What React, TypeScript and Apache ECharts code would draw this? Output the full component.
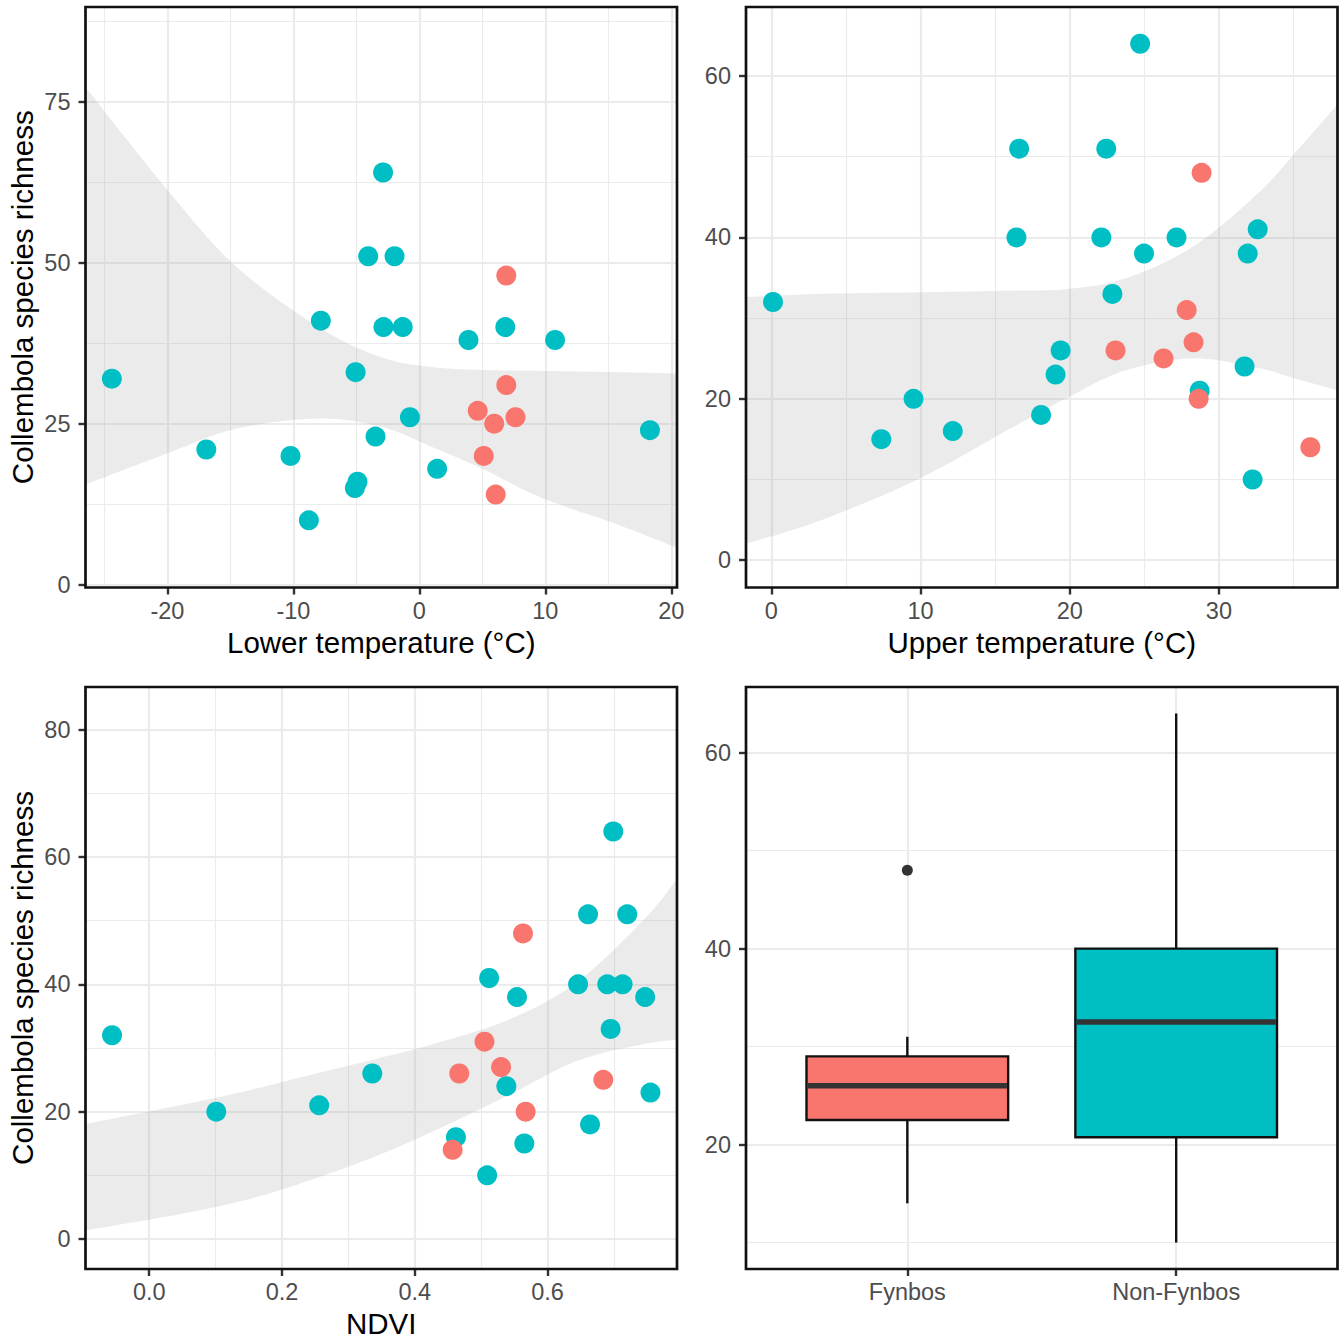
import { useEffect, useRef } from 'react';
import * as echarts from 'echarts';

const FYNBOS_COLOR = '#F8766D';
const NONFYNBOS_COLOR = '#00BFC4';
const FONT = '"Liberation Sans", Arial, Helvetica, sans-serif';

// ---------- Panel A: lower temperature ----------
const lowerTempNonFynbos = [-24.41, -16.91, -10.23, -8.77, -7.82, -5.12, -4.91, -5.06, -4.06, -3.48, -2.88, -2.85, -1.97, -1.32, -0.75, 1.41, 3.9, 6.82, 10.77, 18.3];
const richnessLowerNonFynbos = [32, 21, 20, 10, 41, 15, 16, 33, 51, 23, 64, 40, 51, 40, 26, 18, 38, 40, 38, 24];
const lowerTempFynbos = [6.9, 4.63, 5.94, 6.9, 7.63, 5.11, 6.06];
const richnessLowerFynbos = [48, 27, 25, 31, 26, 20, 14];
const lowerBandX = [-26.6, -20, -14.6, -8, -3, 1, 5, 9.7, 15.8, 20.6];
const lowerBandLow = [15.5, 20.4, 24.2, 25.8, 24.5, 21.4, 18.0, 13.5, 9.3, 5.6];
const lowerBandHigh = [77.5, 61.3, 49.5, 40.0, 35.3, 33.8, 33.35, 33.2, 33.0, 32.8];
const lowerTempTicks = [-20, -10, 0, 10, 20];
const lowerTempMinor = [-25, -15, -5, 5, 15];
const richnessTicksA = [0, 25, 50, 75];
const richnessMinorA = [12.5, 37.5, 62.5, 87.5];

// ---------- Panel B: upper temperature ----------
const upperTempNonFynbos = [0.11, 7.37, 9.53, 12.16, 16.61, 16.43, 18.08, 19.05, 19.39, 22.12, 22.45, 22.86, 24.72, 24.98, 27.16, 28.71, 31.72, 31.93, 32.6, 32.26];
const richnessUpperNonFynbos = [32, 15, 20, 16, 51, 40, 18, 23, 26, 40, 51, 33, 64, 38, 40, 21, 24, 38, 41, 10];
const upperTempFynbos = [28.84, 23.07, 26.29, 27.84, 28.3, 28.64, 36.13];
const richnessUpperFynbos = [48, 26, 25, 31, 27, 20, 14];
const upperBandX = [-1.8, 3.1, 9.8, 15.9, 19.8, 23.7, 28.3, 32.7, 35.3, 38.1];
const upperBandLow = [2.0, 4.8, 10.0, 16.2, 20.1, 23.5, 25.0, 23.8, 22.4, 21.0];
const upperBandHigh = [32.6, 33.0, 33.2, 33.4, 33.6, 34.9, 38.9, 45.6, 50.9, 56.8];
const upperTempTicks = [0, 10, 20, 30];
const upperTempMinor = [5, 15, 25, 35];
const richnessTicksB = [0, 20, 40, 60];
const richnessMinorB = [10, 30, 50];

// ---------- Panel C: NDVI ----------
const ndviNonFynbos = [-0.056, 0.101, 0.256, 0.336, 0.462, 0.509, 0.512, 0.538, 0.554, 0.565, 0.646, 0.661, 0.664, 0.69, 0.695, 0.699, 0.713, 0.72, 0.747, 0.755];
const richnessNdviNonFynbos = [32, 20, 21, 26, 16, 10, 41, 24, 38, 15, 40, 51, 18, 40, 33, 64, 40, 51, 38, 23];
const ndviFynbos = [0.457, 0.467, 0.505, 0.53, 0.563, 0.567, 0.684];
const richnessNdviFynbos = [14, 26, 31, 27, 48, 20, 25];
const ndviBandX = [-0.1, 0.046, 0.144, 0.236, 0.346, 0.444, 0.547, 0.645, 0.749, 0.8];
const ndviBandLow = [1.3, 3.9, 6.1, 9.0, 13.2, 17.7, 22.9, 28.0, 30.7, 31.3];
const ndviBandHigh = [18.0, 21.0, 23.2, 25.6, 28.4, 31.1, 34.7, 40.4, 50.6, 57.3];
const ndviTicks = [0, 0.2, 0.4, 0.6];
const ndviMinor = [0.1, 0.3, 0.5, 0.7];
const richnessTicksC = [0, 20, 40, 60, 80];
const richnessMinorC = [10, 30, 50, 70];

// ---------- Panel D: boxplot ----------
const vegetationTypes = ['Fynbos', 'Non-Fynbos'];
const boxColors = [FYNBOS_COLOR, NONFYNBOS_COLOR];
// [min, Q1, median, Q3, max]
const boxStats = [
  [14, 22.5, 26, 29, 31],
  [10, 20.75, 32.5, 40, 64],
];
const boxOutliers = [[0, 48]];
const richnessTicksD = [20, 40, 60];
const richnessMinorD = [10, 30, 50];

// ---------- layout ----------
const COL_LEFT = [85.5, 746];
const PANEL_W = 591.5;
const ROW_TOP = [7, 687];
const ROW_H = [580.5, 582];
const TICK_FONT = 23.5;
const TITLE_FONT = 29.5;

const panels = [
  { col: 0, row: 0, x: [-26.5, 20.45], y: [-0.43, 89.7], xt: lowerTempTicks, xm: lowerTempMinor, yt: richnessTicksA, ym: richnessMinorA },
  { col: 1, row: 0, x: [-1.7, 37.95], y: [-3.38, 68.55], xt: upperTempTicks, xm: upperTempMinor, yt: richnessTicksB, ym: richnessMinorB },
  { col: 0, row: 1, x: [-0.096, 0.795], y: [-4.71, 86.7], xt: ndviTicks, xm: ndviMinor, yt: richnessTicksC, ym: richnessMinorC },
  { col: 1, row: 1, x: [0.4, 2.6], y: [7.3, 66.7], xt: [1, 2], xm: [] as number[], yt: richnessTicksD, ym: richnessMinorD },
];

function majorAxis(grid: number, range: number[], ticks: number[], isX: boolean, fmt?: (v: number) => string) {
  return {
    type: 'value',
    gridIndex: grid,
    min: range[0],
    max: range[1],
    position: isX ? 'bottom' : 'left',
    axisLine: { show: false, onZero: false },
    axisTick: { show: true, customValues: ticks, length: 7, lineStyle: { color: '#333333', width: 2.4 } },
    axisLabel: {
      show: true,
      customValues: ticks,
      margin: isX ? 11 : 15,
      color: '#4D4D4D',
      fontSize: TICK_FONT,
      fontFamily: FONT,
      formatter: fmt,
    },
    splitLine: { show: true, lineStyle: { color: '#EBEBEB', width: 2.2 } },
    minorTick: { show: false },
    minorSplitLine: { show: false },
  };
}

function minorAxis(grid: number, range: number[], ticks: number[], isX: boolean) {
  return {
    type: 'value',
    gridIndex: grid,
    min: range[0],
    max: range[1],
    position: isX ? 'bottom' : 'left',
    axisLine: { show: false, onZero: false },
    axisTick: { show: false, customValues: ticks },
    axisLabel: { show: false, customValues: ticks },
    splitLine: { show: ticks.length > 0, lineStyle: { color: '#EBEBEB', width: 1.1 } },
  };
}

function pairs(xs: number[], ys: number[]) {
  return xs.map((x, i) => [x, ys[i]]);
}

function scatter(p: number, xs: number[], ys: number[], color: string) {
  return {
    type: 'scatter',
    xAxisIndex: p * 2,
    yAxisIndex: p * 2,
    data: pairs(xs, ys),
    symbolSize: 20,
    itemStyle: { color, opacity: 1 },
    z: 3,
    silent: true,
  };
}

// Catmull-Rom smoothing of already-projected pixel points (drawing only)
function smoothPath(pts: number[][], steps = 16) {
  const out: number[][] = [];
  const n = pts.length;
  for (let i = 0; i < n - 1; i++) {
    const p0 = pts[Math.max(i - 1, 0)];
    const p1 = pts[i];
    const p2 = pts[i + 1];
    const p3 = pts[Math.min(i + 2, n - 1)];
    for (let s = 0; s < steps; s++) {
      const t = s / steps;
      const t2 = t * t;
      const t3 = t2 * t;
      const f = (a: number, b: number, c: number, d: number) =>
        0.5 * (2 * b + (-a + c) * t + (2 * a - 5 * b + 4 * c - d) * t2 + (-a + 3 * b - 3 * c + d) * t3);
      out.push([f(p0[0], p1[0], p2[0], p3[0]), f(p0[1], p1[1], p2[1], p3[1])]);
    }
  }
  out.push(pts[n - 1]);
  return out;
}

function ribbon(p: number, xs: number[], lo: number[], hi: number[]) {
  return {
    type: 'custom',
    xAxisIndex: p * 2,
    yAxisIndex: p * 2,
    clip: true,
    z: 1,
    silent: true,
    data: xs.map((x, i) => [x, lo[i], hi[i]]),
    encode: { x: 0, y: [1, 2] },
    renderItem: (params: any, api: any) => {
      if (params.dataIndex !== 0) return { type: 'group', children: [] };
      const up = xs.map((x, i) => api.coord([x, hi[i]]));
      const dn = xs.map((x, i) => api.coord([x, lo[i]]));
      const points = [...smoothPath(up), ...smoothPath(dn).reverse()];
      return {
        type: 'polygon',
        shape: { points },
        style: { fill: 'rgba(153,153,153,0.2)', stroke: 'none' },
      };
    },
  };
}

export default function App() {
  const ref = useRef<HTMLDivElement>(null);

  useEffect(() => {
    if (!ref.current) return;
    const chart = echarts.init(ref.current, undefined, { renderer: 'svg' });

    const grid = panels.map((pn) => ({
      left: COL_LEFT[pn.col],
      top: ROW_TOP[pn.row],
      width: PANEL_W,
      height: ROW_H[pn.row],
      containLabel: false,
      show: false,
    }));

    const xAxis: any[] = [];
    const yAxis: any[] = [];
    panels.forEach((pn, g) => {
      let fmt: ((v: number) => string) | undefined = undefined;
      if (g === 2) fmt = (v: number) => v.toFixed(1);
      if (g === 3) fmt = (v: number) => vegetationTypes[Math.round(v) - 1] ?? '';
      xAxis.push(majorAxis(g, pn.x, pn.xt, true, fmt));
      xAxis.push(minorAxis(g, pn.x, pn.xm, true));
      yAxis.push(majorAxis(g, pn.y, pn.yt, false));
      yAxis.push(minorAxis(g, pn.y, pn.ym, false));
    });

    const series: any[] = [
      ribbon(0, lowerBandX, lowerBandLow, lowerBandHigh),
      scatter(0, lowerTempNonFynbos, richnessLowerNonFynbos, NONFYNBOS_COLOR),
      scatter(0, lowerTempFynbos, richnessLowerFynbos, FYNBOS_COLOR),
      ribbon(1, upperBandX, upperBandLow, upperBandHigh),
      scatter(1, upperTempNonFynbos, richnessUpperNonFynbos, NONFYNBOS_COLOR),
      scatter(1, upperTempFynbos, richnessUpperFynbos, FYNBOS_COLOR),
      ribbon(2, ndviBandX, ndviBandLow, ndviBandHigh),
      scatter(2, ndviNonFynbos, richnessNdviNonFynbos, NONFYNBOS_COLOR),
      scatter(2, ndviFynbos, richnessNdviFynbos, FYNBOS_COLOR),
      {
        type: 'custom',
        xAxisIndex: 6,
        yAxisIndex: 6,
        data: boxStats.map((s, i) => [i + 1, ...s]),
        encode: { x: 0, y: [1, 2, 3, 4, 5] },
        z: 2,
        silent: true,
        renderItem: (params: any, api: any) => {
          const x = api.value(0);
          const cx = api.coord([x, api.value(1)])[0];
          const yMin = api.coord([x, api.value(1)])[1];
          const yQ1 = api.coord([x, api.value(2)])[1];
          const yMed = api.coord([x, api.value(3)])[1];
          const yQ3 = api.coord([x, api.value(4)])[1];
          const yMax = api.coord([x, api.value(5)])[1];
          const half = api.size([0.75, 0])[0] / 2;
          const stroke = '#111111';
          return {
            type: 'group',
            children: [
              { type: 'line', shape: { x1: cx, y1: yQ3, x2: cx, y2: yMax }, style: { stroke, lineWidth: 2.4 } },
              { type: 'line', shape: { x1: cx, y1: yQ1, x2: cx, y2: yMin }, style: { stroke, lineWidth: 2.4 } },
              {
                type: 'rect',
                shape: { x: cx - half, y: yQ3, width: half * 2, height: yQ1 - yQ3 },
                style: { fill: boxColors[params.dataIndex], stroke, lineWidth: 2.4 },
              },
              { type: 'line', shape: { x1: cx - half + 1.2, y1: yMed, x2: cx + half - 1.2, y2: yMed }, style: { stroke: '#333333', lineWidth: 5.5 } },
            ],
          };
        },
      },
      {
        type: 'scatter',
        xAxisIndex: 6,
        yAxisIndex: 6,
        data: boxOutliers.map(([ci, v]) => [ci + 1, v]),
        symbolSize: 11,
        itemStyle: { color: '#333333', opacity: 1 },
        z: 3,
        silent: true,
      },
    ];

    const borders = panels.map((pn) => ({
      type: 'rect',
      z: 100,
      silent: true,
      shape: { x: COL_LEFT[pn.col], y: ROW_TOP[pn.row], width: PANEL_W, height: ROW_H[pn.row] },
      style: { fill: 'none', stroke: '#111111', lineWidth: 2.7 },
    }));

    const titleStyle = { fontSize: TITLE_FONT, fontFamily: FONT, fill: '#000000', align: 'center', verticalAlign: 'middle' };
    const titles = [
      { type: 'text', z: 100, x: COL_LEFT[0] + PANEL_W / 2, y: 642, style: { ...titleStyle, text: 'Lower temperature (°C)' } },
      { type: 'text', z: 100, x: COL_LEFT[1] + PANEL_W / 2, y: 642, style: { ...titleStyle, text: 'Upper temperature (°C)' } },
      { type: 'text', z: 100, x: COL_LEFT[0] + PANEL_W / 2, y: 1323, style: { ...titleStyle, text: 'NDVI' } },
      { type: 'text', z: 100, x: 22, y: ROW_TOP[0] + ROW_H[0] / 2, rotation: Math.PI / 2, style: { ...titleStyle, text: 'Collembola species richness' } },
      { type: 'text', z: 100, x: 22, y: ROW_TOP[1] + ROW_H[1] / 2, rotation: Math.PI / 2, style: { ...titleStyle, text: 'Collembola species richness' } },
    ];

    chart.setOption({
      animation: false,
      backgroundColor: '#FFFFFF',
      textStyle: { fontFamily: FONT },
      grid,
      xAxis,
      yAxis,
      series,
      graphic: [...borders, ...titles],
    });

    return () => chart.dispose();
  }, []);

  return <div ref={ref} style={{ position: 'absolute', left: 0, top: 0, width: 1343, height: 1339 }} />;
}
